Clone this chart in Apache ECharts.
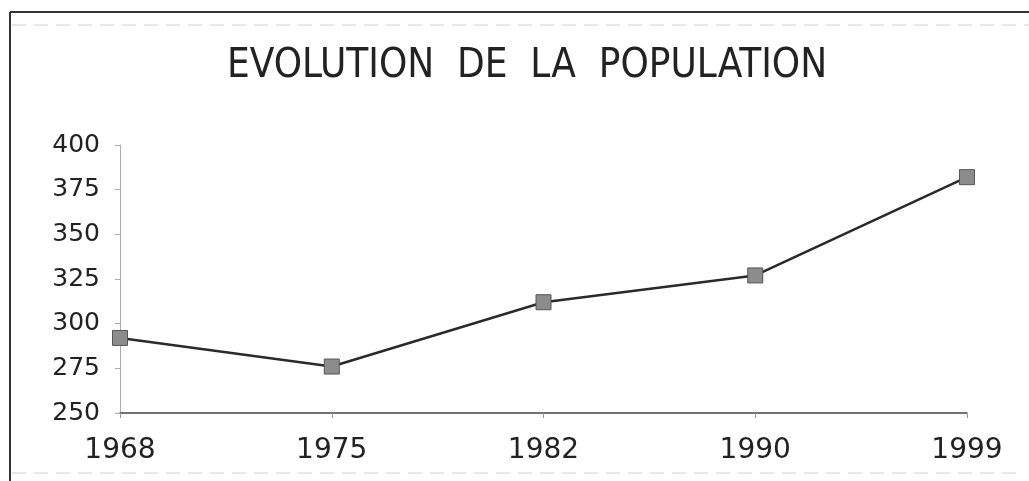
<!DOCTYPE html>
<html>
<head>
<meta charset="utf-8">
<script src="https://cdn.jsdelivr.net/npm/echarts@6/dist/echarts.min.js"></script>
<style>
  html, body { margin: 0; padding: 0; background: #fff; }
  #chart { width: 1029px; height: 481px; }
</style>
</head>
<body>
<div id="chart"></div>
<script>
// données
const years = ['1968', '1975', '1982', '1990', '1999'];
const population = [292, 276, 312, 327, 382];
const yMin = 250;
const yMax = 400;
const yStep = 25;

const chart = echarts.init(document.getElementById('chart'));

const option = {
  backgroundColor: '#fff',
  animation: false,
  title: {
    // doubles espaces : les mots sont bien espacés sur l'original
    text: 'EVOLUTION  DE  LA  POPULATION',
    left: 222,
    top: 42,
    textStyle: {
      fontFamily: 'Liberation Sans Narrow, DejaVu Sans Condensed, sans-serif',
      fontSize: 40,
      fontWeight: 'normal',
      color: '#222'
    }
  },
  // cadre scanné autour du graphique
  graphic: [
    {
      type: 'line',
      shape: { x1: 10, y1: 12, x2: 1029, y2: 12 },
      style: { stroke: '#333', lineWidth: 2 }
    },
    {
      type: 'line',
      shape: { x1: 10, y1: 12, x2: 10, y2: 481 },
      style: { stroke: '#333', lineWidth: 2 }
    },
    {
      type: 'line',
      shape: { x1: 12, y1: 25, x2: 1029, y2: 25 },
      style: { stroke: '#d0d0d0', lineWidth: 1, lineDash: [14, 8] }
    },
    {
      type: 'line',
      shape: { x1: 12, y1: 473, x2: 1020, y2: 473 },
      style: { stroke: '#d0d0d0', lineWidth: 1, lineDash: [14, 8] }
    }
  ],
  grid: { left: 120, right: 62, top: 145, bottom: 68 },
  xAxis: {
    type: 'category',
    data: years,
    boundaryGap: false,
    axisLine: { lineStyle: { color: '#444', width: 1.5 } },
    axisTick: { show: true, length: 5, lineStyle: { color: '#999' } },
    axisLabel: {
      margin: 24,
      fontFamily: 'DejaVu Sans',
      fontSize: 28,
      color: '#222'
    }
  },
  yAxis: {
    type: 'value',
    min: yMin,
    max: yMax,
    interval: yStep,
    axisLine: { show: true, lineStyle: { color: '#aaa' } },
    axisTick: { show: true, length: 5, lineStyle: { color: '#aaa' } },
    splitLine: { show: false },
    axisLabel: {
      margin: 20,
      fontFamily: 'DejaVu Sans',
      fontSize: 25,
      color: '#222'
    }
  },
  series: [
    {
      type: 'line',
      data: population,
      symbol: 'rect',
      symbolSize: 15,
      lineStyle: { color: '#2a2a2a', width: 2.5 },
      itemStyle: { color: '#8c8c8c', borderColor: '#555', borderWidth: 1 }
    }
  ]
};

chart.setOption(option);
</script>
</body>
</html>
